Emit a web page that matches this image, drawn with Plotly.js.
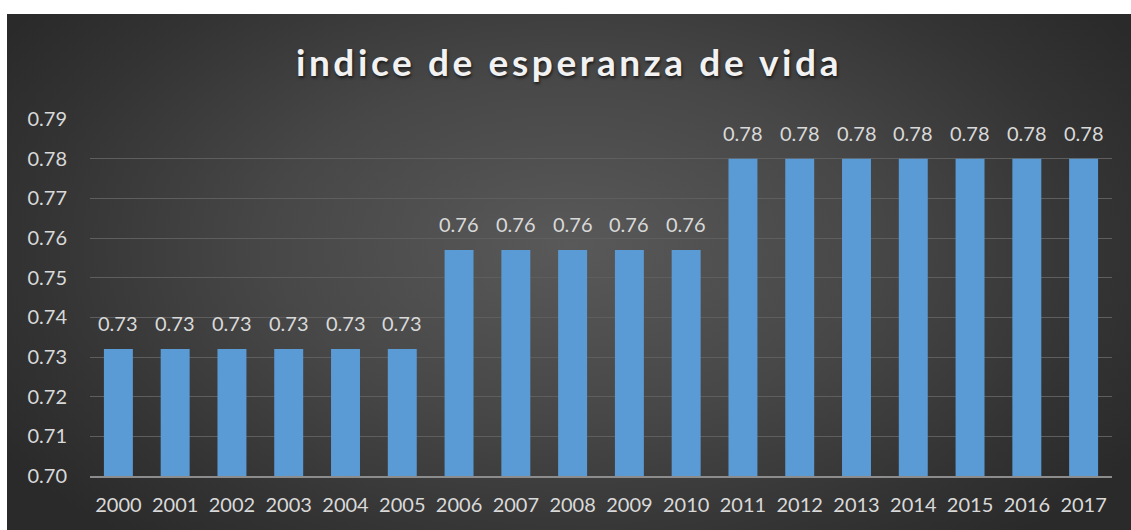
<!DOCTYPE html>
<html>
<head>
<meta charset="utf-8">
<script src="https://cdn.plot.ly/plotly-3.0.1.min.js"></script>
<style>
  html, body { margin: 0; padding: 0; background: #ffffff; width: 1131px; height: 530px; overflow: hidden; }
  #chart {
    position: absolute; left: 7px; top: 14px; width: 1124px; height: 516px;
    background: radial-gradient(ellipse 60% 75% at 50% 45%, #595959 0%, #474747 45%, #333333 80%, #2a2a2a 100%);
  }
  .gtitle { letter-spacing: 3.6px; text-shadow: 1px 2px 3px rgba(0,0,0,0.6); }
</style>
</head>
<body>
<div id="chart"></div>
<script>
const years = ['2000','2001','2002','2003','2004','2005','2006','2007','2008','2009','2010','2011','2012','2013','2014','2015','2016','2017'];
const lifeIndex = [0.732,0.732,0.732,0.732,0.732,0.732,0.757,0.757,0.757,0.757,0.757,0.780,0.780,0.780,0.780,0.780,0.780,0.780];
const yTicks = [0.70,0.71,0.72,0.73,0.74,0.75,0.76,0.77,0.78,0.79];
const chartTitle = 'indice de esperanza de vida';

const FONT = 'Lato, "Open Sans", sans-serif';

const trace = {
  type: 'bar',
  x: years,
  y: lifeIndex,
  marker: { color: '#5b9bd5', line: { width: 0 } },
  hoverinfo: 'skip'
};

// data labels: category position given by index on the category axis
const labels = years.map((yr, i) => ({
  x: i, y: lifeIndex[i], xref: 'x', yref: 'y',
  text: lifeIndex[i].toFixed(2),
  showarrow: false, yanchor: 'bottom', yshift: 12,
  font: { family: FONT, size: 20, color: '#d9d9d9' }
}));

const layout = {
  width: 1124, height: 516,
  paper_bgcolor: 'rgba(0,0,0,0)',
  plot_bgcolor: 'rgba(0,0,0,0)',
  margin: { l: 83, r: 19, t: 105, b: 54 },
  bargap: 0.49,
  showlegend: false,
  annotations: labels,
  title: {
    text: '<b>' + chartTitle + '</b>',
    font: { family: FONT, size: 37, color: '#f2f2f2' },
    x: 0.5, xanchor: 'center', xref: 'container',
    y: 1 - 49/516, yref: 'container', yanchor: 'middle'
  },
  xaxis: {
    type: 'category',
    range: [-0.5, years.length - 0.5],
    tickfont: { family: FONT, size: 20, color: '#d9d9d9' },
    showgrid: false,
    showline: true, linecolor: '#8c8c8c', linewidth: 2,
    ticks: '', ticklabelstandoff: 10,
    zeroline: false
  },
  yaxis: {
    range: [0.70, 0.79],
    tickvals: yTicks,
    tickformat: '.2f',
    tickfont: { family: FONT, size: 20, color: '#d9d9d9' },
    showgrid: true, gridcolor: '#5e5e5e', gridwidth: 1,
    zeroline: false, showline: false,
    ticks: '', ticklabelstandoff: 22
  }
};

Plotly.newPlot('chart', [trace], layout, { displayModeBar: false, staticPlot: true });
</script>
</body>
</html>
